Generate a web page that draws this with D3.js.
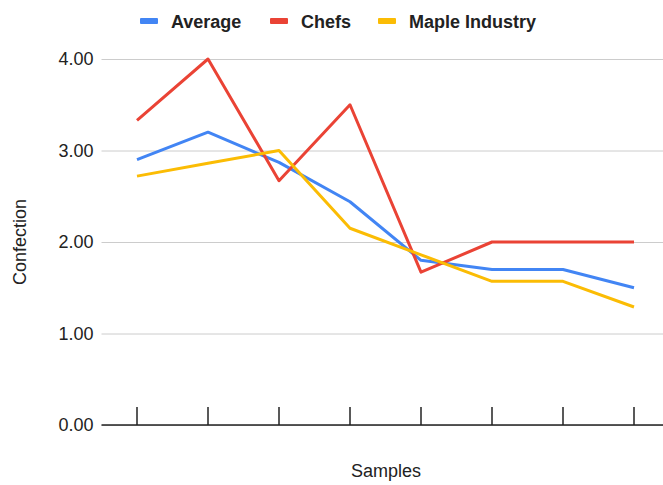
<!DOCTYPE html>
<html>
<head>
<meta charset="utf-8">
<script src="https://cdn.jsdelivr.net/npm/d3@7/dist/d3.min.js"></script>
<style>
  html, body { margin: 0; padding: 0; background: #fff; }
  svg { display: block; font-family: "Liberation Sans", Arial, sans-serif; }
</style>
</head>
<body>
<svg id="chart" width="663" height="485"></svg>
<script>
// Samples along the x axis (unlabelled)
const samples = ["1", "2", "3", "4", "5", "6", "7", "8"];
// Confection scores per sample
const average = [2.9, 3.2, 2.87, 2.44, 1.8, 1.7, 1.7, 1.5];
const chefs = [3.33, 4.0, 2.67, 3.5, 1.67, 2.0, 2.0, 2.0];
const maple = [2.72, 2.86, 3.0, 2.15, 1.86, 1.57, 1.57, 1.29];
const yTicks = [0, 1, 2, 3, 4];

const seriesNames = ["Average", "Chefs", "Maple Industry"];
const seriesColors = ["#4285F4", "#EA4335", "#FBBC04"];
const series = [average, chefs, maple].map((values, i) => ({
  name: seriesNames[i], color: seriesColors[i], values
}));

const svg = d3.select("#chart");
const plotLeft = 101.5, plotRight = 669.5, plotTop = 59, plotBottom = 425;

const x = d3.scaleBand().domain(samples).range([plotLeft, plotRight]);
const y = d3.scaleLinear().domain([0, 4]).range([plotBottom, plotTop]);

// Horizontal gridlines and value labels
const yAxis = d3.axisLeft(y).tickValues(yTicks).tickFormat(d3.format(".2f"))
  .tickSize(-(663 - plotLeft)).tickPadding(8);
const gy = svg.append("g").attr("transform", `translate(${plotLeft},0)`).call(yAxis);
gy.select(".domain").remove();
gy.selectAll(".tick line").attr("stroke", "#cccccc").attr("stroke-width", 1);
gy.selectAll(".tick text").attr("font-size", 18).attr("fill", "#222")
  .attr("font-family", "'Liberation Sans', Arial, sans-serif");

// Baseline with upward sample ticks
const xAxis = d3.axisBottom(x).tickSize(-18).tickFormat("");
const gx = svg.append("g").attr("transform", `translate(0,${plotBottom})`).call(xAxis);
gx.select(".domain").attr("d", `M${plotLeft},0H663`).attr("stroke", "#222").attr("stroke-width", 1.5);
gx.selectAll(".tick line").attr("stroke", "#222").attr("stroke-width", 1.5);

// Series lines
const line = d3.line()
  .x((d, i) => x(samples[i]) + x.bandwidth() / 2)
  .y(d => y(d));
svg.append("g").selectAll("path").data(series).join("path")
  .attr("d", d => line(d.values))
  .attr("fill", "none")
  .attr("stroke", d => d.color)
  .attr("stroke-width", 3)
  .attr("stroke-linejoin", "round");

// Axis titles
svg.append("text").attr("x", 386).attr("y", 477).attr("text-anchor", "middle")
  .attr("font-size", 18).attr("fill", "#222").text("Samples");
svg.append("text").attr("transform", "translate(26,242) rotate(-90)")
  .attr("text-anchor", "middle").attr("font-size", 18).attr("fill", "#222").text("Confection");

// Legend
const legendX = [140, 270, 378];
const lg = svg.append("g").selectAll("g").data(series).join("g")
  .attr("transform", (d, i) => `translate(${legendX[i]},21)`);
lg.append("rect").attr("x", 0).attr("y", -3).attr("width", 18).attr("height", 6)
  .attr("rx", 1).attr("fill", d => d.color);
lg.append("text").attr("x", 31).attr("y", 6.5).attr("font-size", 18)
  .attr("font-weight", "bold").attr("fill", "#222").text(d => d.name);
</script>
</body>
</html>
